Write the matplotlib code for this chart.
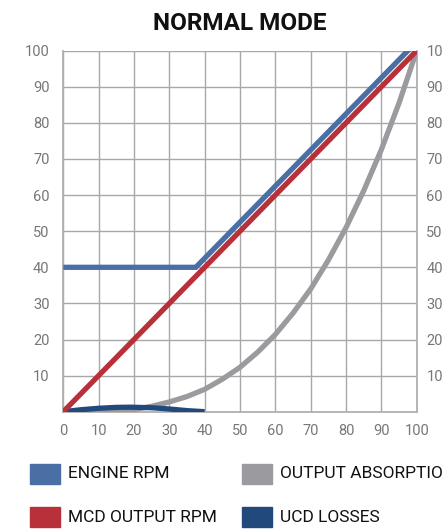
import matplotlib
matplotlib.use("Agg")
import matplotlib.pyplot as plt
from matplotlib.patches import Rectangle

# ---- data ----
engine_x = [0, 37.5, 97.5, 100]
engine_y = [40, 40, 100, 102.5]

mcd_x = [0, 100]
mcd_y = [0, 100]

absorb_x = [0, 10, 15, 20, 25, 30, 35, 40, 45, 50, 55, 60, 65, 70, 75, 80, 85, 90, 95, 100]
absorb_y = [0, 0, 0, 0.6, 1.5, 2.7, 4.2, 6.2, 9.0, 12.3, 16.5, 21.4, 27.3, 34.0, 42.0, 51.0, 61.2, 72.6, 85.5, 100]

ucd_x = [0, 5, 10, 15, 19, 25, 30, 35, 40]
ucd_y = [0, 0.55, 0.95, 1.2, 1.25, 1.1, 0.75, 0.3, 0]

series_labels = ["ENGINE RPM", "OUTPUT ABSORPTION", "MCD OUTPUT RPM", "UCD LOSSES"]
series_colors = ["#4a6fa5", "#9b9b9f", "#b8303a", "#22497c"]

x_ticks = [0, 10, 20, 30, 40, 50, 60, 70, 80, 90, 100]
y_ticks = [10, 20, 30, 40, 50, 60, 70, 80, 90, 100]
title = "NORMAL MODE"

# ---- figure ----
W, H = 442, 529
fig = plt.figure(figsize=(W / 100, H / 100), dpi=100)
ax = fig.add_axes([63.3 / W, 1 - 411.7 / H, (416.7 - 63.3) / W, (411.7 - 50.7) / H])

lw = 3.8
col = dict(zip(series_labels, series_colors))
ax.plot(absorb_x, absorb_y, color=col["OUTPUT ABSORPTION"], lw=lw, solid_capstyle="butt", zorder=3)
ax.plot(ucd_x, ucd_y, color=col["UCD LOSSES"], lw=lw, solid_capstyle="butt", zorder=4)
ax.plot(engine_x, engine_y, color=col["ENGINE RPM"], lw=lw, solid_capstyle="butt", solid_joinstyle="miter", zorder=5)
ax.plot(mcd_x, mcd_y, color=col["MCD OUTPUT RPM"], lw=lw, solid_capstyle="butt", zorder=6)

ax.set_xlim(0, 100)
ax.set_ylim(0, 100)
ax.set_xticks(x_ticks)
ax.set_yticks(y_ticks)
ax.grid(True, color="#a8a8a8", lw=1.0, zorder=1)
ax.set_axisbelow(True)
ax.spines["top"].set_visible(False)
for s in ["left", "right", "bottom"]:
    ax.spines[s].set_color("#b0b0b0")
    ax.spines[s].set_linewidth(1.3)
ax.tick_params(length=0, labelsize=10.5, labelcolor="#777777")
ax.tick_params(axis="x", pad=9)
ax.tick_params(axis="y", pad=10)
for lab in ax.get_xticklabels() + ax.get_yticklabels():
    lab.set_fontfamily("Roboto")

# right-hand labels
axr = ax.twinx()
axr.set_ylim(0, 100)
axr.set_yticks(y_ticks)
axr.tick_params(length=0, labelsize=10.5, labelcolor="#777777", pad=7)
for s in axr.spines.values():
    s.set_visible(False)
for lab in axr.get_yticklabels():
    lab.set_fontfamily("Roboto")

fig.text(240 / W, 1 - 23 / H, title, ha="center", va="center",
         fontsize=17.5, fontweight="bold", family="Roboto", color="#111111")

# ---- legend ----
leg_pos = [(30, 464), (242, 464), (30, 507), (242, 507)]
for (px, py), lab, c in zip(leg_pos, series_labels, series_colors):
    fig.patches.append(Rectangle((px / W, 1 - (py + 20) / H), 30 / W, 20 / H,
                                 transform=fig.transFigure, color=c, figure=fig))
    fig.text((px + 38) / W, 1 - (py + 10) / H, lab, ha="left", va="center",
             fontsize=12.5, family="Roboto", color="#111111")

fig.savefig("out.png", dpi=100)
